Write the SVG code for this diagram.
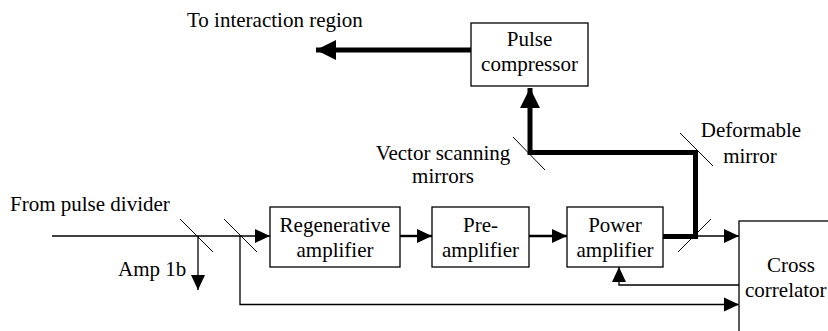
<svg xmlns="http://www.w3.org/2000/svg" width="828" height="331" viewBox="0 0 828 331">
<defs>
<style>
.box{fill:#fff;stroke:#000;stroke-width:1.3}
.t{font-family:"Liberation Serif","Times New Roman",Times,serif;font-size:21px;fill:#000}
.c{text-anchor:middle}
.thin{fill:none;stroke:#000;stroke-width:1.3}
.med{fill:none;stroke:#000;stroke-width:2.4}
.thick{fill:none;stroke:#000;stroke-width:5}
.mir{fill:none;stroke:#000;stroke-width:1}
</style>
<marker id="ah" markerUnits="userSpaceOnUse" markerWidth="16" markerHeight="16" viewBox="0 0 16 16" refX="15" refY="8" orient="auto">
<path d="M0,1 L15,8 L0,15 Z" fill="#000"/>
</marker>
<marker id="ahb" markerUnits="userSpaceOnUse" markerWidth="22" markerHeight="22" viewBox="0 0 22 22" refX="20" refY="11" orient="auto">
<path d="M0,1 L20,11 L0,21 Z" fill="#000"/>
</marker>
</defs>
<rect width="828" height="331" fill="#fff"/>

<g id="connectors">
<path class="thin" d="M52,236 H270" marker-end="url(#ah)"/>
<path class="thin" d="M198,236 V290" marker-end="url(#ah)"/>
<path class="thin" d="M240,236 V304.5 H739" marker-end="url(#ah)"/>
<path class="med" d="M400,236 H432" marker-end="url(#ah)"/>
<path class="med" d="M529,236 H567" marker-end="url(#ah)"/>
<path class="thick" d="M663,236.5 H695.5 V152.5 H530 V88" marker-end="url(#ahb)"/>
<path class="thin" d="M695,236 H739" marker-end="url(#ah)"/>
<path class="thin" d="M739,285 H619 V267" marker-end="url(#ah)"/>
<path class="thick" d="M471,50 H316" marker-end="url(#ahb)"/>
</g>

<g id="mirror-1">
<line class="mir" x1="180" y1="219" x2="213" y2="252"/>
</g>
<g id="mirror-2">
<line class="mir" x1="224" y1="219" x2="257" y2="252"/>
</g>
<g id="mirror-3">
<line class="mir" x1="678" y1="252" x2="711" y2="219"/>
</g>
<g id="vector-scanning-mirror">
<line class="mir" x1="513" y1="137" x2="545" y2="170"/>
<text class="t c" x="443" y="160">Vector scanning</text>
<text class="t c" x="443" y="183">mirrors</text>
</g>
<g id="deformable-mirror">
<line class="mir" x1="680" y1="133" x2="713" y2="166"/>
<text class="t c" x="751" y="137">Deformable</text>
<text class="t c" x="750" y="163">mirror</text>
</g>

<g id="pulse-compressor">
<rect class="box" x="471" y="23" width="117" height="63"/>
<text class="t c" x="529.5" y="46">Pulse</text>
<text class="t c" x="529.5" y="71">compressor</text>
</g>
<g id="regenerative-amplifier">
<rect class="box" x="270" y="207" width="130" height="60"/>
<text class="t c" x="335" y="232">Regenerative</text>
<text class="t c" x="335" y="257">amplifier</text>
</g>
<g id="pre-amplifier">
<rect class="box" x="432" y="207" width="97" height="60"/>
<text class="t c" x="480.5" y="232">Pre-</text>
<text class="t c" x="480.5" y="257">amplifier</text>
</g>
<g id="power-amplifier">
<rect class="box" x="567" y="207" width="96" height="60"/>
<text class="t c" x="615" y="232">Power</text>
<text class="t c" x="615" y="257">amplifier</text>
</g>
<g id="cross-correlator">
<rect class="box" x="739" y="221" width="130" height="140"/>
<text class="t c" x="791" y="272">Cross</text>
<text class="t" x="745" y="297">correlator</text>
</g>

<g id="labels">
<text class="t" x="187" y="27">To interaction region</text>
<text class="t" x="10" y="211">From pulse divider</text>
<text class="t" x="118" y="276">Amp 1b</text>
</g>
</svg>
